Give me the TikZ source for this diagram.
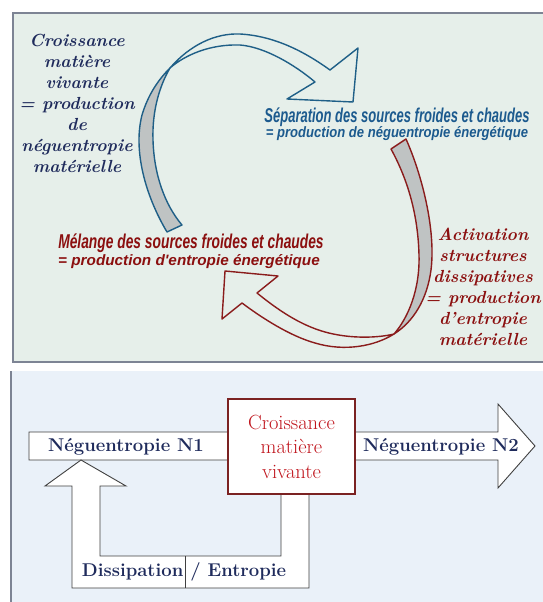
\documentclass[tikz,border=0pt]{standalone}
\usepackage{fontspec}
\usepackage{graphicx}
\newfontfamily\wordart{Liberation Sans}
\definecolor{topbg}{HTML}{E6EFEA}
\definecolor{botbg}{HTML}{EAF1F9}
\definecolor{framegray}{HTML}{7D8494}
\definecolor{ribbonblue}{HTML}{1F5F87}
\definecolor{ribbonred}{HTML}{8A1C1C}
\definecolor{ribbongray}{HTML}{BFC3C3}
\definecolor{navytext}{HTML}{1F2B5C}
\definecolor{bluetext}{HTML}{1C5A8E}
\definecolor{redtext}{HTML}{8B0F0F}
\definecolor{boxred}{HTML}{C0141C}
\definecolor{boxframe}{HTML}{7B2222}
\tikzset{every picture/.style={x=1pt,y=-1pt}}
\tikzset{panel frame/.style={draw=framegray, line width=2pt}}
\tikzset{blue ribbon/.style={draw=ribbonblue, line width=1.4pt, line join=round}}
\tikzset{red ribbon/.style={draw=ribbonred, line width=1.4pt, line join=round}}
\tikzset{side text/.style={align=center, font=\fontsize{17.5}{21}\selectfont\bfseries\itshape}}
\tikzset{title text/.style={anchor=base, inner sep=0pt, font=\fontsize{20}{20}\selectfont\wordart\bfseries\itshape}}
\tikzset{sub text/.style={anchor=base, inner sep=0pt, font=\fontsize{15}{15}\selectfont\wordart\bfseries\itshape}}
\tikzset{block arrow/.style={draw=black!75, fill=white, line width=0.9pt, line join=miter}}
\tikzset{flow text/.style={text=navytext, font=\fontsize{18.5}{18.5}\selectfont\bfseries}}
\tikzset{growth box/.style={draw=boxframe, line width=2pt, fill=white, text=boxred, align=center,
    minimum width=127pt, minimum height=95pt, font=\fontsize{20.5}{24.5}\selectfont}}
\newcommand{\squeeze}[2]{\scalebox{#1}[1]{#2}}

\begin{document}
\begin{tikzpicture}
        \useasboundingbox (0,0) rectangle (542,602);
        % panels
        \fill[topbg] (13,13) rectangle (560,362);
        \draw[panel frame] (560,13) -- (13,13) -- (13,362) -- (560,362);
        \fill[botbg] (11,371) rectangle (560,610);
        \draw[panel frame] (11,371) -- (11,610);
        % blue ribbon
        \draw[blue ribbon, fill=ribbongray] (167,232) .. controls (145,195) and (133,150) .. (142,115)
            .. controls (148,95) and (158,80) .. (170,68)
            .. controls (160,85) and (152,110) .. (153,140)
            .. controls (154,175) and (165,205) .. (182,225) -- cycle;
        \draw[blue ribbon, fill=topbg] (170,68) .. controls (190,45) and (215,33) .. (240,34)
            .. controls (275,36) and (305,52) .. (330,70)
            -- (358,48) -- (353,102) -- (287,99) -- (315,82)
            .. controls (295,65) and (265,47) .. (240,45)
            .. controls (210,44) and (185,55) .. (170,68) -- cycle;
        % red ribbon
        \draw[red ribbon, fill=ribbongray] (406,139) .. controls (422,175) and (436,230) .. (431,270)
            .. controls (427,300) and (413,322) .. (394,334)
            .. controls (408,318) and (420,290) .. (419,255)
            .. controls (418,215) and (408,180) .. (391,149) -- cycle;
        \draw[red ribbon, fill=topbg] (394,334) .. controls (375,346) and (345,352) .. (315,343)
            .. controls (290,336) and (262,318) .. (242,303)
            -- (222,319) -- (225,271) -- (278,276) -- (257,293)
            .. controls (278,310) and (300,325) .. (325,332)
            .. controls (350,339) and (378,338) .. (394,334) -- cycle;
        % texts of the cycle
        \node[side text, text=navytext] (growthtxt) at (77,103) {Croissance\\matière\\vivante\\= production\\de\\néguentropie\\matérielle};
        \node[side text, text=redtext] (activtxt) at (483,287) {Activation\\structures\\dissipatives\\= production\\d’entropie\\matérielle};
        \node[title text, text=bluetext] (sep) at (397,122) {\squeeze{0.65}{Séparation des sources froides et chaudes}};
        \node[sub text, text=bluetext] (sepeq) at (397,137) {\squeeze{0.87}{= production de néguentropie énergétique}};
        \node[title text, text=redtext] (mel) at (191,248) {\squeeze{0.69}{Mélange des sources froides et chaudes}};
        \node[sub text, text=redtext] (meleq) at (189,265) {\squeeze{1.02}{= production d'entropie énergétique}};
        % flow below
        \draw[block arrow] (29,432) -- (498,432) -- (498,404) -- (535,446) -- (498,488) -- (498,460) -- (29,460) -- cycle;
        \draw[block arrow] (81,460) -- (126,486) -- (100,486) -- (100,556) -- (281,556) -- (281,494) -- (309,494)
            -- (309,588) -- (72,588) -- (72,486) -- (45,486) -- cycle;
        \draw[black!75, line width=0.9pt] (185,556) -- (185,588);
        \node[growth box] (growth) at (291.5,446.5) {Croissance\\matière\\vivante};
        \node[flow text] (n1) at (126,447) {Néguentropie N1};
        \node[flow text] (n2) at (441,447) {Néguentropie N2};
        \node[flow text] (diss) at (184,572) {Dissipation / Entropie};
\end{tikzpicture}
\end{document}
